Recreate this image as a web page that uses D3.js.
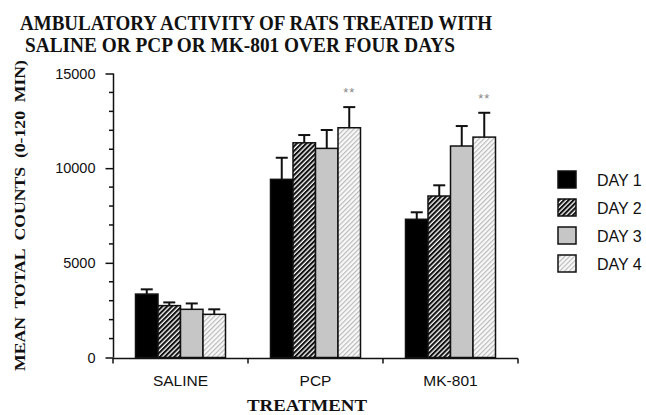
<!DOCTYPE html>
<html><head><meta charset="utf-8">
<script src="https://cdn.jsdelivr.net/npm/d3@7"></script>
<style>body{margin:0;background:#fff}svg{display:block}</style>
</head><body>
<script>
const categories = ["SALINE", "PCP", "MK-801"];
const days = ["DAY 1", "DAY 2", "DAY 3", "DAY 4"];
const day1 = [3350, 9410, 7300];
const day2 = [2740, 11340, 8530];
const day3 = [2545, 11045, 11170];
const day4 = [2280, 12135, 11640];
const err1 = [250, 1140, 370];
const err2 = [170, 410, 565];
const err3 = [310, 970, 1055];
const err4 = [265, 1090, 1285];
const significance = ["", "**", "**"];
const yTicks = [0, 5000, 10000, 15000];

const W = 646, H = 415;
const svg = d3.select("body").append("svg").attr("width", W).attr("height", H);
const defs = svg.append("defs");

const p2 = defs.append("pattern").attr("id", "pd2").attr("patternUnits", "userSpaceOnUse")
  .attr("width", 3.4).attr("height", 4).attr("patternTransform", "rotate(45)");
p2.append("rect").attr("width", 3.4).attr("height", 4).attr("fill", "#fff");
p2.append("rect").attr("width", 2.1).attr("height", 4).attr("fill", "#111");

const p4 = defs.append("pattern").attr("id", "pd4").attr("patternUnits", "userSpaceOnUse")
  .attr("width", 3.4).attr("height", 4).attr("patternTransform", "rotate(45)");
p4.append("rect").attr("width", 3.4).attr("height", 4).attr("fill", "#f8f8f8");
p4.append("rect").attr("width", 1.1).attr("height", 4).attr("fill", "#b8b8b8");

const fills = ["#000", "url(#pd2)", "#c6c6c6", "url(#pd4)"];

const x0 = d3.scaleBand().domain(categories).range([113, 518]).paddingInner(1/3).paddingOuter(1/6);
const x1 = d3.scaleBand().domain(days).range([0, x0.bandwidth()]);
const y = d3.scaleLinear().domain([0, 15000]).range([357.5, 73.5]);

const series = [day1, day2, day3, day4];
const errs = [err1, err2, err3, err4];

categories.forEach((c, ci) => {
  const g = svg.append("g").attr("transform", `translate(${x0(c)},0)`);
  days.forEach((d, di) => {
    const v = series[di][ci], e = errs[di][ci];
    const bx = x1(d), bw = x1.bandwidth();
    const cx = bx + bw / 2;
    g.append("line").attr("x1", cx).attr("x2", cx).attr("y1", y(v)).attr("y2", y(v + e))
      .attr("stroke", "#111").attr("stroke-width", 2);
    g.append("line").attr("x1", cx - 6).attr("x2", cx + 6).attr("y1", y(v + e)).attr("y2", y(v + e))
      .attr("stroke", "#111").attr("stroke-width", 2);
    g.append("rect").attr("x", bx).attr("y", y(v)).attr("width", bw).attr("height", y(0) - y(v))
      .attr("fill", fills[di]).attr("stroke", "#111").attr("stroke-width", 1.5);
    if (di === 3 && significance[ci]) {
      g.append("text").attr("x", cx).attr("y", y(v + e) - 10).attr("text-anchor", "middle")
        .attr("font-family", "Liberation Sans, Arial, sans-serif").attr("font-size", 13)
        .attr("fill", "#888").attr("letter-spacing", 1).text(significance[ci]);
    }
  });
});

const yAxis = d3.axisLeft(y).tickValues(yTicks).tickSize(8).tickPadding(10).tickFormat(d3.format("d"));
const ya = svg.append("g").attr("transform", "translate(113.5,0)").call(yAxis);
ya.select(".domain").attr("stroke", "#111").attr("stroke-width", 1.5).attr("d", `M0,${y(15000)}V${y(0)}`);
ya.selectAll(".tick line").attr("stroke", "#111").attr("stroke-width", 1.5);
ya.selectAll(".tick text").attr("font-family", "Liberation Sans, Arial, sans-serif").attr("font-size", 14.5).attr("fill", "#111");
const minor = d3.range(0, 15001, 1000).filter(v => v % 5000 !== 0);
ya.selectAll(".minor").data(minor).enter().append("line").attr("class", "minor")
  .attr("x1", -4.5).attr("x2", 0).attr("y1", d => y(d)).attr("y2", d => y(d))
  .attr("stroke", "#111").attr("stroke-width", 1.5);

const xa = svg.append("g").attr("transform", "translate(0,358.5)");
xa.append("line").attr("x1", 112.5).attr("x2", 518).attr("y1", 0).attr("y2", 0).attr("stroke", "#111").attr("stroke-width", 1.5);
const bounds = categories.map(c => x0(c) - x0.step() * x0.paddingInner() / 2).concat([518]);
bounds[0] = 113;
xa.selectAll(".xt").data(bounds).enter().append("line").attr("x1", d => d).attr("x2", d => d)
  .attr("y1", 0).attr("y2", 5).attr("stroke", "#111").attr("stroke-width", 1.5);
xa.selectAll(".xl").data(categories).enter().append("text")
  .attr("x", d => x0(d) + x0.bandwidth() / 2).attr("y", 27).attr("text-anchor", "middle")
  .attr("font-family", "Liberation Sans, Arial, sans-serif").attr("font-size", 15.5).attr("fill", "#111").text(d => d);

const serif = "Liberation Serif, Times New Roman, serif";
svg.append("text").attr("x", 20).attr("y", 30).attr("font-family", serif).attr("font-weight", "bold")
  .attr("font-size", 20.5).attr("textLength", 472).attr("lengthAdjust", "spacingAndGlyphs").attr("fill", "#111")
  .text("AMBULATORY ACTIVITY OF RATS TREATED WITH");
svg.append("text").attr("x", 25).attr("y", 51.5).attr("font-family", serif).attr("font-weight", "bold")
  .attr("font-size", 20.5).attr("textLength", 430).attr("lengthAdjust", "spacingAndGlyphs").attr("fill", "#111")
  .text("SALINE OR PCP OR MK-801 OVER FOUR DAYS");
svg.append("text").attr("x", 307).attr("y", 411).attr("text-anchor", "middle").attr("font-family", serif)
  .attr("font-weight", "bold").attr("font-size", 16).attr("textLength", 120).attr("lengthAdjust", "spacingAndGlyphs")
  .attr("fill", "#111").text("TREATMENT");
svg.append("text").attr("transform", "translate(25,215.5) rotate(-90)").attr("text-anchor", "middle")
  .attr("font-family", serif).attr("font-weight", "bold").attr("font-size", 15.5)
  .attr("textLength", 311).attr("lengthAdjust", "spacingAndGlyphs").attr("fill", "#111")
  .style("white-space", "pre").text("MEAN  TOTAL  COUNTS  (0-120  MIN)");

const lg = svg.append("g").attr("transform", "translate(558,171)");
days.forEach((d, i) => {
  lg.append("rect").attr("x", 0).attr("y", i * 28).attr("width", 18).attr("height", 17)
    .attr("fill", fills[i]).attr("stroke", "#111").attr("stroke-width", 1.5);
  lg.append("text").attr("x", 39).attr("y", i * 28 + 14.5).attr("font-family", "Liberation Sans, Arial, sans-serif")
    .attr("font-size", 16).attr("fill", "#111").text(d);
});
</script>
</body></html>
